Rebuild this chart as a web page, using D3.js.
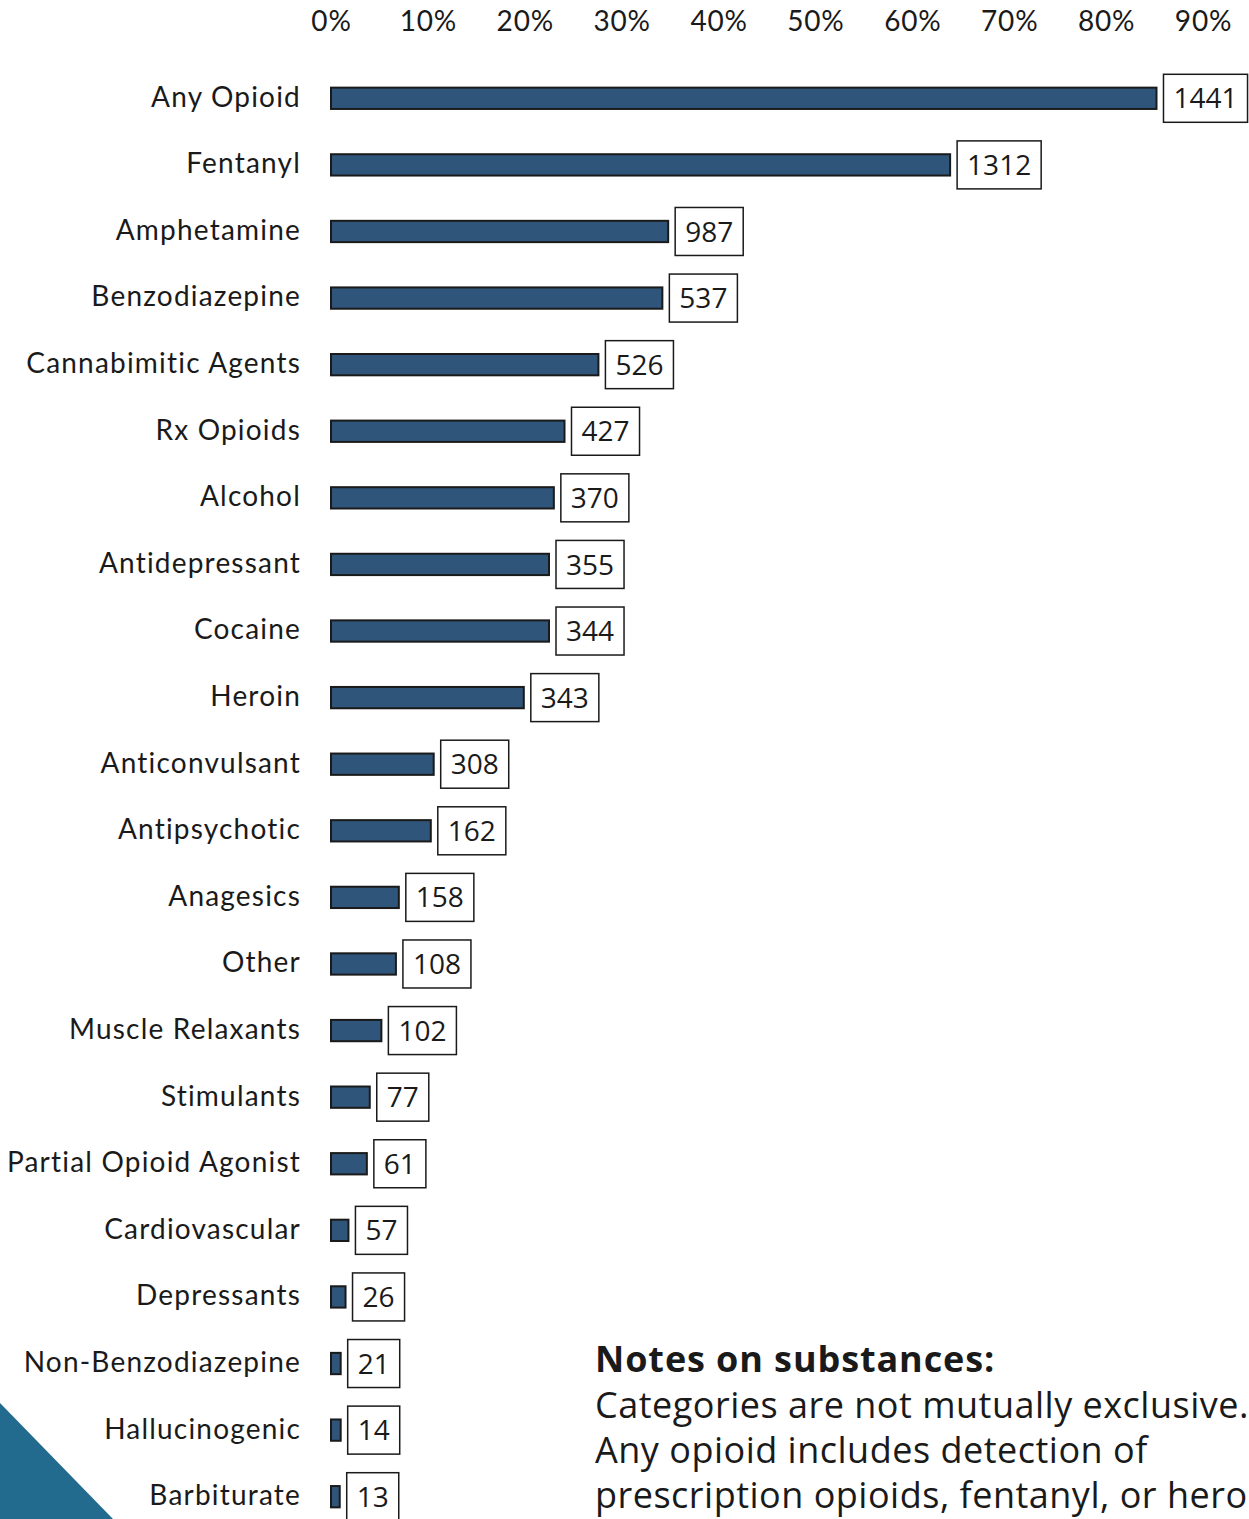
<!DOCTYPE html>
<html>
<head>
    <script src="https://d3js.org/d3.v7.min.js"></script>
    <style>
        body { margin: 0; background: #fff; }
        .tick text { font: 28px Lato, sans-serif; letter-spacing: 0.8px; fill: #1a1a1a; }
        .cat { font: 28px Lato, sans-serif; letter-spacing: 1.2px; fill: #1a1a1a; }
        .count { font: 28px "Open Sans", sans-serif; fill: #1a1a1a; }
        .notes { font-family: "Open Sans", sans-serif; fill: #1a1a1a; }
    </style>
</head>
<body>
<svg width="1249" height="1519"></svg>
<script>
    var categories = ["Any Opioid", "Fentanyl", "Amphetamine", "Benzodiazepine", "Cannabimitic Agents",
        "Rx Opioids", "Alcohol", "Antidepressant", "Cocaine", "Heroin", "Anticonvulsant", "Antipsychotic",
        "Anagesics", "Other", "Muscle Relaxants", "Stimulants", "Partial Opioid Agonist", "Cardiovascular",
        "Depressants", "Non-Benzodiazepine", "Hallucinogenic", "Barbiturate"];
    // share of cases (bar length)
    var percents = [85.2, 63.9, 34.8, 34.2, 27.6, 24.1, 23.0, 22.5, 22.5, 19.9, 10.6, 10.3,
        7.0, 6.7, 5.2, 4.0, 3.7, 1.8, 1.5, 1.0, 1.0, 0.9];
    // number of cases (boxed label)
    var counts = [1441, 1312, 987, 537, 526, 427, 370, 355, 344, 343, 308, 162,
        158, 108, 102, 77, 61, 57, 26, 21, 14, 13];
    var ticks = [0, 10, 20, 30, 40, 50, 60, 70, 80, 90];
    var notes = ["Categories are not mutually exclusive.",
        "Any opioid includes detection of",
        "prescription opioids, fentanyl, or heroin."];

    var svg = d3.select("svg");

    // corner triangle
    svg.append("path")
        .attr("d", "M0,1403 L113,1519 L0,1519 Z")
        .attr("fill", "#236b8e");

    var x = d3.scaleLinear().domain([0, 90]).range([331, 1203]);
    var y = d3.scaleBand().domain(categories).range([65, 1530]).paddingInner(0.68).paddingOuter(0.34);

    var axis = svg.append("g")
        .attr("transform", "translate(0,34)")
        .call(d3.axisTop(x).tickValues(ticks).tickSize(0).tickFormat(function(d) { return d + "%"; }));
    axis.select(".domain").remove();

    var rows = svg.selectAll(".row")
        .data(categories)
        .enter().append("g")
        .attr("class", "row");

    rows.append("text")
        .attr("class", "cat")
        .attr("x", 301)
        .attr("y", function(d) { return y(d) + y.bandwidth() / 2; })
        .attr("dy", "0.3em")
        .attr("text-anchor", "end")
        .text(function(d) { return d; });

    rows.append("rect")
        .attr("x", x(0))
        .attr("y", function(d) { return y(d); })
        .attr("width", function(d, i) { return x(percents[i]) - x(0); })
        .attr("height", y.bandwidth())
        .attr("fill", "#30557a")
        .attr("stroke", "#1a1a1a")
        .attr("stroke-width", 2);

    rows.each(function(d, i) {
        var g = d3.select(this);
        var bx = x(percents[i]) + 7;
        var cy = y(d) + y.bandwidth() / 2;
        var box = g.append("rect")
            .attr("fill", "#fff")
            .attr("stroke", "#1a1a1a")
            .attr("stroke-width", 1.5);
        var t = g.append("text")
            .attr("class", "count")
            .attr("x", bx + 10)
            .attr("y", cy)
            .attr("dy", "0.36em")
            .text(counts[i]);
        var w = t.node().getComputedTextLength();
        box.attr("x", bx).attr("y", cy - 24).attr("width", w + 20).attr("height", 48);
    });

    // notes
    var nt = svg.append("text").attr("class", "notes").attr("x", 595);
    nt.append("tspan").attr("x", 595).attr("y", 1372)
        .attr("font-weight", "bold").attr("font-size", 36).attr("letter-spacing", 0.9)
        .text("Notes on substances:");
    notes.forEach(function(s, i) {
        nt.append("tspan").attr("x", 595).attr("y", 1418 + i * 45)
            .attr("font-size", 36).attr("letter-spacing", 0.5)
            .text(s);
    });
</script>
</body>
</html>
